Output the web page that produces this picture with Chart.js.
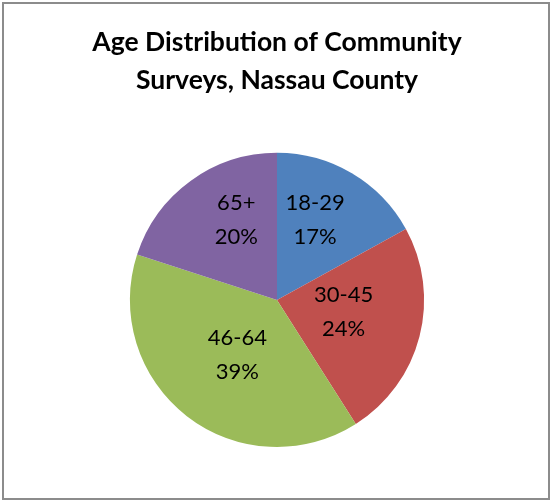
<!DOCTYPE html>
<html>
<head>
<meta charset="utf-8">
<script src="https://cdn.jsdelivr.net/npm/chart.js@4"></script>
<style>
  html, body { margin: 0; padding: 0; background: #ffffff; }
  #wrap {
    position: absolute; left: 2px; top: 2px;
    width: 544px; height: 494px;
    border: 2px solid #8c8c8c;
    background: #ffffff;
  }
  #c { display: block; }
</style>
</head>
<body>
<div id="wrap"><canvas id="c" width="544" height="494"></canvas></div>
<script>
// ---- data ----
const titleLines = ['Age Distribution of Community', 'Surveys, Nassau County'];
const categories = ['18-29', '30-45', '46-64', '65+'];
const percentages = [17, 24, 39, 20];
const sliceColors = ['#4F81BD', '#C0504D', '#9BBB59', '#8064A2'];

// label placement (style): radial fraction and angular nudge (degrees) per slice
const labelRadialFraction = [0.60, 0.46, 0.46, 0.61];
const labelAngleNudge = [-5, -4, -2, 9];

const sliceLabels = {
  id: 'sliceLabels',
  afterDatasetsDraw(chart) {
    const ctx = chart.ctx;
    const meta = chart.getDatasetMeta(0);
    ctx.save();
    ctx.font = '22px Lato';
    ctx.fillStyle = '#000000';
    ctx.textAlign = 'center';
    ctx.textBaseline = 'middle';
    meta.data.forEach((arc, i) => {
      const p = arc.getProps(['x', 'y', 'startAngle', 'endAngle', 'outerRadius'], true);
      const mid = (p.startAngle + p.endAngle) / 2 + labelAngleNudge[i] * Math.PI / 180;
      const r = p.outerRadius * labelRadialFraction[i];
      const cx = p.x + Math.cos(mid) * r;
      const cy = p.y + Math.sin(mid) * r;
      ctx.fillText(categories[i], cx, cy - 17);
      ctx.fillText(percentages[i] + '%', cx, cy + 17);
    });
    ctx.restore();
  }
};

new Chart(document.getElementById('c'), {
  type: 'pie',
  data: {
    labels: categories,
    datasets: [{
      data: percentages,
      backgroundColor: sliceColors,
      borderWidth: 0
    }]
  },
  options: {
    responsive: false,
    animation: false,
    layout: { padding: { top: 0, bottom: 51, left: 2, right: 0 } },
    plugins: {
      legend: { display: false },
      tooltip: { enabled: false },
      title: {
        display: true,
        text: titleLines,
        color: '#000000',
        font: { family: 'Lato', size: 26.5, weight: 'bold', lineHeight: 1.43 },
        padding: { top: 20, bottom: 53 }
      }
    }
  },
  plugins: [sliceLabels]
});
</script>
</body>
</html>
